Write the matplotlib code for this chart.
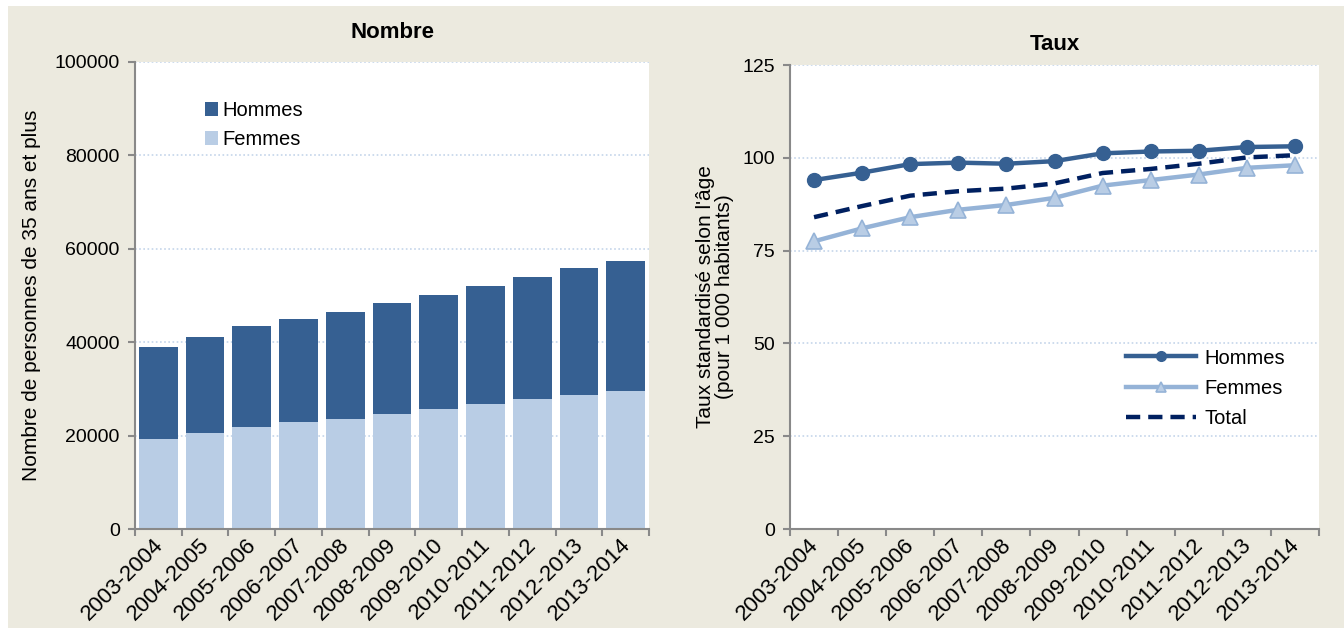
import matplotlib.pyplot as plt
import numpy as np
from matplotlib.patches import Rectangle
from matplotlib.transforms import ScaledTranslation

plt.rcParams['font.family'] = ['Liberation Sans', 'DejaVu Sans']

periodes = ['2003-2004', '2004-2005', '2005-2006', '2006-2007', '2007-2008', '2008-2009',
            '2009-2010', '2010-2011', '2011-2012', '2012-2013', '2013-2014']

# nombre de personnes (35 ans et plus)
nb_femmes = [19300, 20600, 21800, 22900, 23600, 24600, 25700, 26800, 27800, 28800, 29600]
nb_hommes = [19700, 20500, 21600, 22100, 22800, 23700, 24400, 25200, 26200, 27000, 27800]

# taux standardisés pour 1 000 habitants
taux_hommes = [94.0, 96.0, 98.3, 98.7, 98.4, 99.1, 101.2, 101.7, 101.9, 102.9, 103.1]
taux_femmes = [77.5, 81.0, 84.0, 86.0, 87.3, 89.2, 92.5, 94.0, 95.5, 97.3, 98.0]
taux_total = [84.0, 87.0, 89.8, 91.0, 91.7, 93.1, 95.9, 97.0, 98.4, 100.1, 100.7]

BEIGE = '#ECEADF'
GRIS = '#898989'
BLEU_FONCE = '#366092'
BLEU_CLAIR = '#B9CDE5'
BLEU_LIGNE = '#95B3D7'
MARINE = '#002060'
GRILLE = '#C5D5EA'

fig = plt.figure(figsize=(13.44, 6.29), dpi=100, facecolor='white')
fond = Rectangle((8 / 1344, 1 / 629), 1 - 8 / 1344, 622 / 629,
                 transform=fig.transFigure, facecolor=BEIGE, edgecolor='none', zorder=-10)
fig.add_artist(fond)

ax1 = fig.add_axes([135 / 1344, 100 / 629, 514 / 1344, 467 / 629])
ax2 = fig.add_axes([790 / 1344, 100 / 629, 529 / 1344, 464 / 629])

x = np.arange(len(periodes))
decalage = ScaledTranslation(-6 / 100, 0, fig.dpi_scale_trans)


def style_axe(ax):
    ax.set_facecolor('white')
    for s in ['top', 'right']:
        ax.spines[s].set_visible(False)
    for s in ['left', 'bottom']:
        ax.spines[s].set_color(GRIS)
        ax.spines[s].set_linewidth(1.5)
    ax.set_xlim(-0.5, len(periodes) - 0.5)
    ax.set_xticks(x)
    ax.set_xticklabels(periodes, rotation=45, ha='right', rotation_mode='anchor', fontsize=16)
    ax.tick_params(axis='x', which='major', length=0, pad=4)
    ax.set_xticks(np.arange(len(periodes) + 1) - 0.5, minor=True)
    ax.tick_params(axis='x', which='minor', length=5, color=GRIS, width=1.5)
    ax.tick_params(axis='y', length=5, color=GRIS, width=1.5, labelsize=14, pad=6)
    ax.grid(axis='y', color=GRILLE, linestyle=(0, (1, 1.5)), linewidth=1.2)
    ax.set_axisbelow(True)
    # petit recalage horizontal des étiquettes inclinées
    for lab in ax.get_xticklabels():
        lab.set_transform(lab.get_transform() + decalage)


# --- Nombre ---
style_axe(ax1)
ax1.bar(x, nb_femmes, width=0.83, color=BLEU_CLAIR, label='Femmes', zorder=2)
ax1.bar(x, nb_hommes, bottom=nb_femmes, width=0.83, color=BLEU_FONCE, label='Hommes', zorder=2)
ax1.set_ylim(0, 100000)
ax1.set_yticks(range(0, 100001, 20000))
ax1.set_ylabel('Nombre de personnes de 35 ans et plus', fontsize=15, labelpad=10)
ax1.set_title('Nombre', fontsize=16, fontweight='bold', pad=17)
h, l = ax1.get_legend_handles_labels()
ax1.legend(h[::-1], l[::-1], loc='upper left', bbox_to_anchor=(0.1, 0.955), frameon=False,
           fontsize=14.5, handlelength=0.65, handleheight=0.65, handletextpad=0.25,
           labelspacing=0.5)

# --- Taux ---
style_axe(ax2)
ax2.plot(x, taux_hommes, color=BLEU_FONCE, lw=3.2, marker='o', markersize=10,
         label='Hommes', zorder=3)
ax2.plot(x, taux_femmes, color=BLEU_LIGNE, lw=3.2, marker='^', markersize=11,
         markerfacecolor=BLEU_CLAIR, markeredgecolor=BLEU_LIGNE, markeredgewidth=1.2,
         label='Femmes', zorder=3)
ax2.plot(x, taux_total, color=MARINE, lw=3.2, linestyle=(0, (3.2, 1.8)),
         label='Total', zorder=4)
ax2.set_ylim(0, 125)
ax2.set_yticks(range(0, 126, 25))
ax2.set_ylabel("Taux standardisé selon l'âge\n(pour 1 000 habitants)", fontsize=15,
               labelpad=6, linespacing=1.0)
ax2.set_title('Taux', fontsize=16, fontweight='bold', pad=11)
ax2.legend(loc='upper left', bbox_to_anchor=(0.6, 0.428), frameon=False, fontsize=14.5,
           handlelength=3.5, handletextpad=0.4, labelspacing=0.55, markerscale=0.7)

fig.savefig('out.png', dpi=100, facecolor=fig.get_facecolor())
